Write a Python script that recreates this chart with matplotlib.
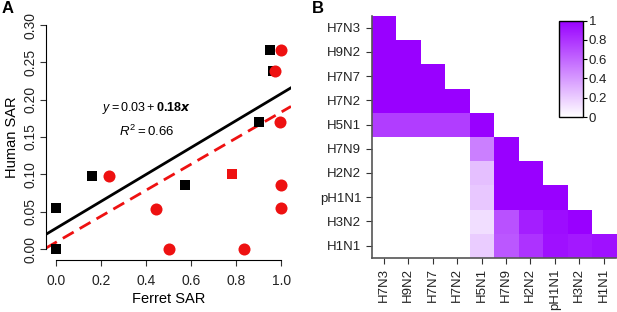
#!/usr/bin/env python
# -*- coding: utf-8 -*-
# Ferret vs human SAR scatter (A) and subtype similarity heatmap (B)

import numpy as np
import matplotlib
matplotlib.use("Agg")
from matplotlib import pyplot as plt
from matplotlib.colors import LinearSegmentedColormap

plt.rcParams['font.family'] = ['Liberation Sans', 'DejaVu Sans']
plt.rcParams['mathtext.fontset'] = 'custom'
plt.rcParams['mathtext.rm'] = 'Liberation Sans'
plt.rcParams['mathtext.it'] = 'Liberation Sans:italic'
plt.rcParams['mathtext.bf'] = 'Liberation Sans:bold'

#============================== Data ==============================
# panel A : black squares and red circles
sq_ferret = [0.0, 0.0, 0.16, 0.574, 0.78, 0.90, 0.951, 0.966]
sq_human = [0.0, 0.0544, 0.098, 0.086, 0.1007, 0.170, 0.267, 0.238]
ci_ferret = [0.236, 0.445, 0.50, 0.837, 0.996, 1.0, 0.973, 1.0, 1.0]
ci_human = [0.098, 0.0535, 0.0, 0.0, 0.170, 0.267, 0.238, 0.0856, 0.0544]
# overlapping point drawn as red square
rsq_ferret = [0.78]
rsq_human = [0.1007]
fit_black = (0.028, 0.180)   # intercept, slope
fit_red = (0.0093, 0.174)

x_ticks = [0.0, 0.2, 0.4, 0.6, 0.8, 1.0]
y_ticks = [0.00, 0.05, 0.10, 0.15, 0.20, 0.25, 0.30]

# panel B : lower triangular similarity matrix
subtypes = ['H7N3', 'H9N2', 'H7N7', 'H7N2', 'H5N1', 'H7N9', 'H2N2', 'pH1N1', 'H3N2', 'H1N1']
rows = [
    [1.0],
    [1.0, 1.0],
    [1.0, 1.0, 1.0],
    [1.0, 1.0, 1.0, 1.0],
    [0.76, 0.76, 0.76, 0.76, 1.0],
    [0.0, 0.0, 0.0, 0.0, 0.50, 1.0],
    [0.0, 0.0, 0.0, 0.0, 0.25, 1.0, 1.0],
    [0.0, 0.0, 0.0, 0.0, 0.22, 1.0, 1.0, 1.0],
    [0.0, 0.0, 0.0, 0.0, 0.13, 0.68, 0.88, 0.95, 1.0],
    [0.0, 0.0, 0.0, 0.0, 0.20, 0.66, 0.80, 0.93, 0.90, 0.93],
]
cbar_ticks = [0, 0.2, 0.4, 0.6, 0.8, 1]
cbar_labels = ['0', '0.2', '0.4', '0.6', '0.8', '1']

#============================== Figure ==============================
fig = plt.figure(figsize=(6.17, 3.12), dpi=100)

# ---- panel A
ax = fig.add_axes([46/617, 1-260/312, 245/617, 245/312])
xl = np.array([-0.046, 1.044])
ax.plot(xl, fit_black[0] + fit_black[1]*xl, color='black', lw=2, zorder=2)
ax.plot(xl, fit_red[0] + fit_red[1]*xl, color='#EE1111', lw=2, ls=(0, (4.5, 2.5)), zorder=2)
ax.scatter(sq_ferret, sq_human, marker='s', s=60, color='black', zorder=3, linewidths=0)
ax.scatter(ci_ferret, ci_human, marker='o', s=75, color='#EE1111', zorder=4, linewidths=0)
ax.scatter(rsq_ferret, rsq_human, marker='s', s=46, color='#EE1111', zorder=5, linewidths=0)
ax.set_xlim(xl)
ax.set_ylim(-0.0147, 0.3134)
ax.set_xticks(x_ticks)
ax.set_xticklabels(['%.1f' % v for v in x_ticks])
ax.set_yticks(y_ticks)
ax.set_yticklabels(['%.2f' % v for v in y_ticks], rotation=90, va='center', ha='right')
for s in ['top', 'right']:
    ax.spines[s].set_visible(False)
ax.spines['bottom'].set_bounds(0, 1)
ax.spines['left'].set_bounds(0, 0.3)
ax.tick_params(labelsize=10, length=4, color='#333333', labelcolor='#222222')
ax.tick_params(axis='x', pad=6)
ax.tick_params(axis='y', pad=2)
ax.set_xlabel('Ferret SAR', fontsize=10.5, labelpad=3)
ax.set_ylabel('Human SAR', fontsize=10.5, labelpad=3)
ax.text(0.40, 0.189, r'$y = 0.03 + \mathbf{0.18}\boldsymbol{x}$', ha='center', va='center', fontsize=9)
ax.text(0.40, 0.158, r'$R^2 = 0.66$', ha='center', va='center', fontsize=9.5)
fig.text(2/617, 1-1/312, 'A', fontsize=12, fontweight='bold', ha='left', va='top')

# ---- panel B
n = len(subtypes)
mat = np.full((n, n), np.nan)
for i, r in enumerate(rows):
    mat[i, :len(r)] = r
cmap = LinearSegmentedColormap.from_list('wp', ['#FFFFFF', '#9900FF'])
cmap.set_bad((1, 1, 1, 0))

bx = fig.add_axes([371.7/617, 1-257.7/312, 244/617, 242/312])
im = bx.imshow(np.ma.masked_invalid(mat), cmap=cmap, vmin=0, vmax=1, aspect='auto',
               interpolation='nearest')
bx.set_xticks(range(n))
bx.set_xticklabels(subtypes, rotation=90)
bx.set_yticks(range(n))
bx.set_yticklabels(subtypes)
for s in ['top', 'right']:
    bx.spines[s].set_visible(False)
for s in ['left', 'bottom']:
    bx.spines[s].set_color('#555555')
    bx.spines[s].set_linewidth(1.2)
bx.tick_params(labelsize=9.5, length=4, color='#333333', labelcolor='#222222')
fig.text(312/617, 1-1/312, 'B', fontsize=12, fontweight='bold', ha='left', va='top')

cax = fig.add_axes([559/617, 1-117/312, 24/617, 96.3/312])
cb = fig.colorbar(im, cax=cax, ticks=cbar_ticks)
cb.ax.set_yticklabels(cbar_labels)
cb.ax.tick_params(labelsize=9.5, length=3, pad=1, labelcolor='#222222')
cb.outline.set_linewidth(1)

fig.savefig('out.png', dpi=100)
